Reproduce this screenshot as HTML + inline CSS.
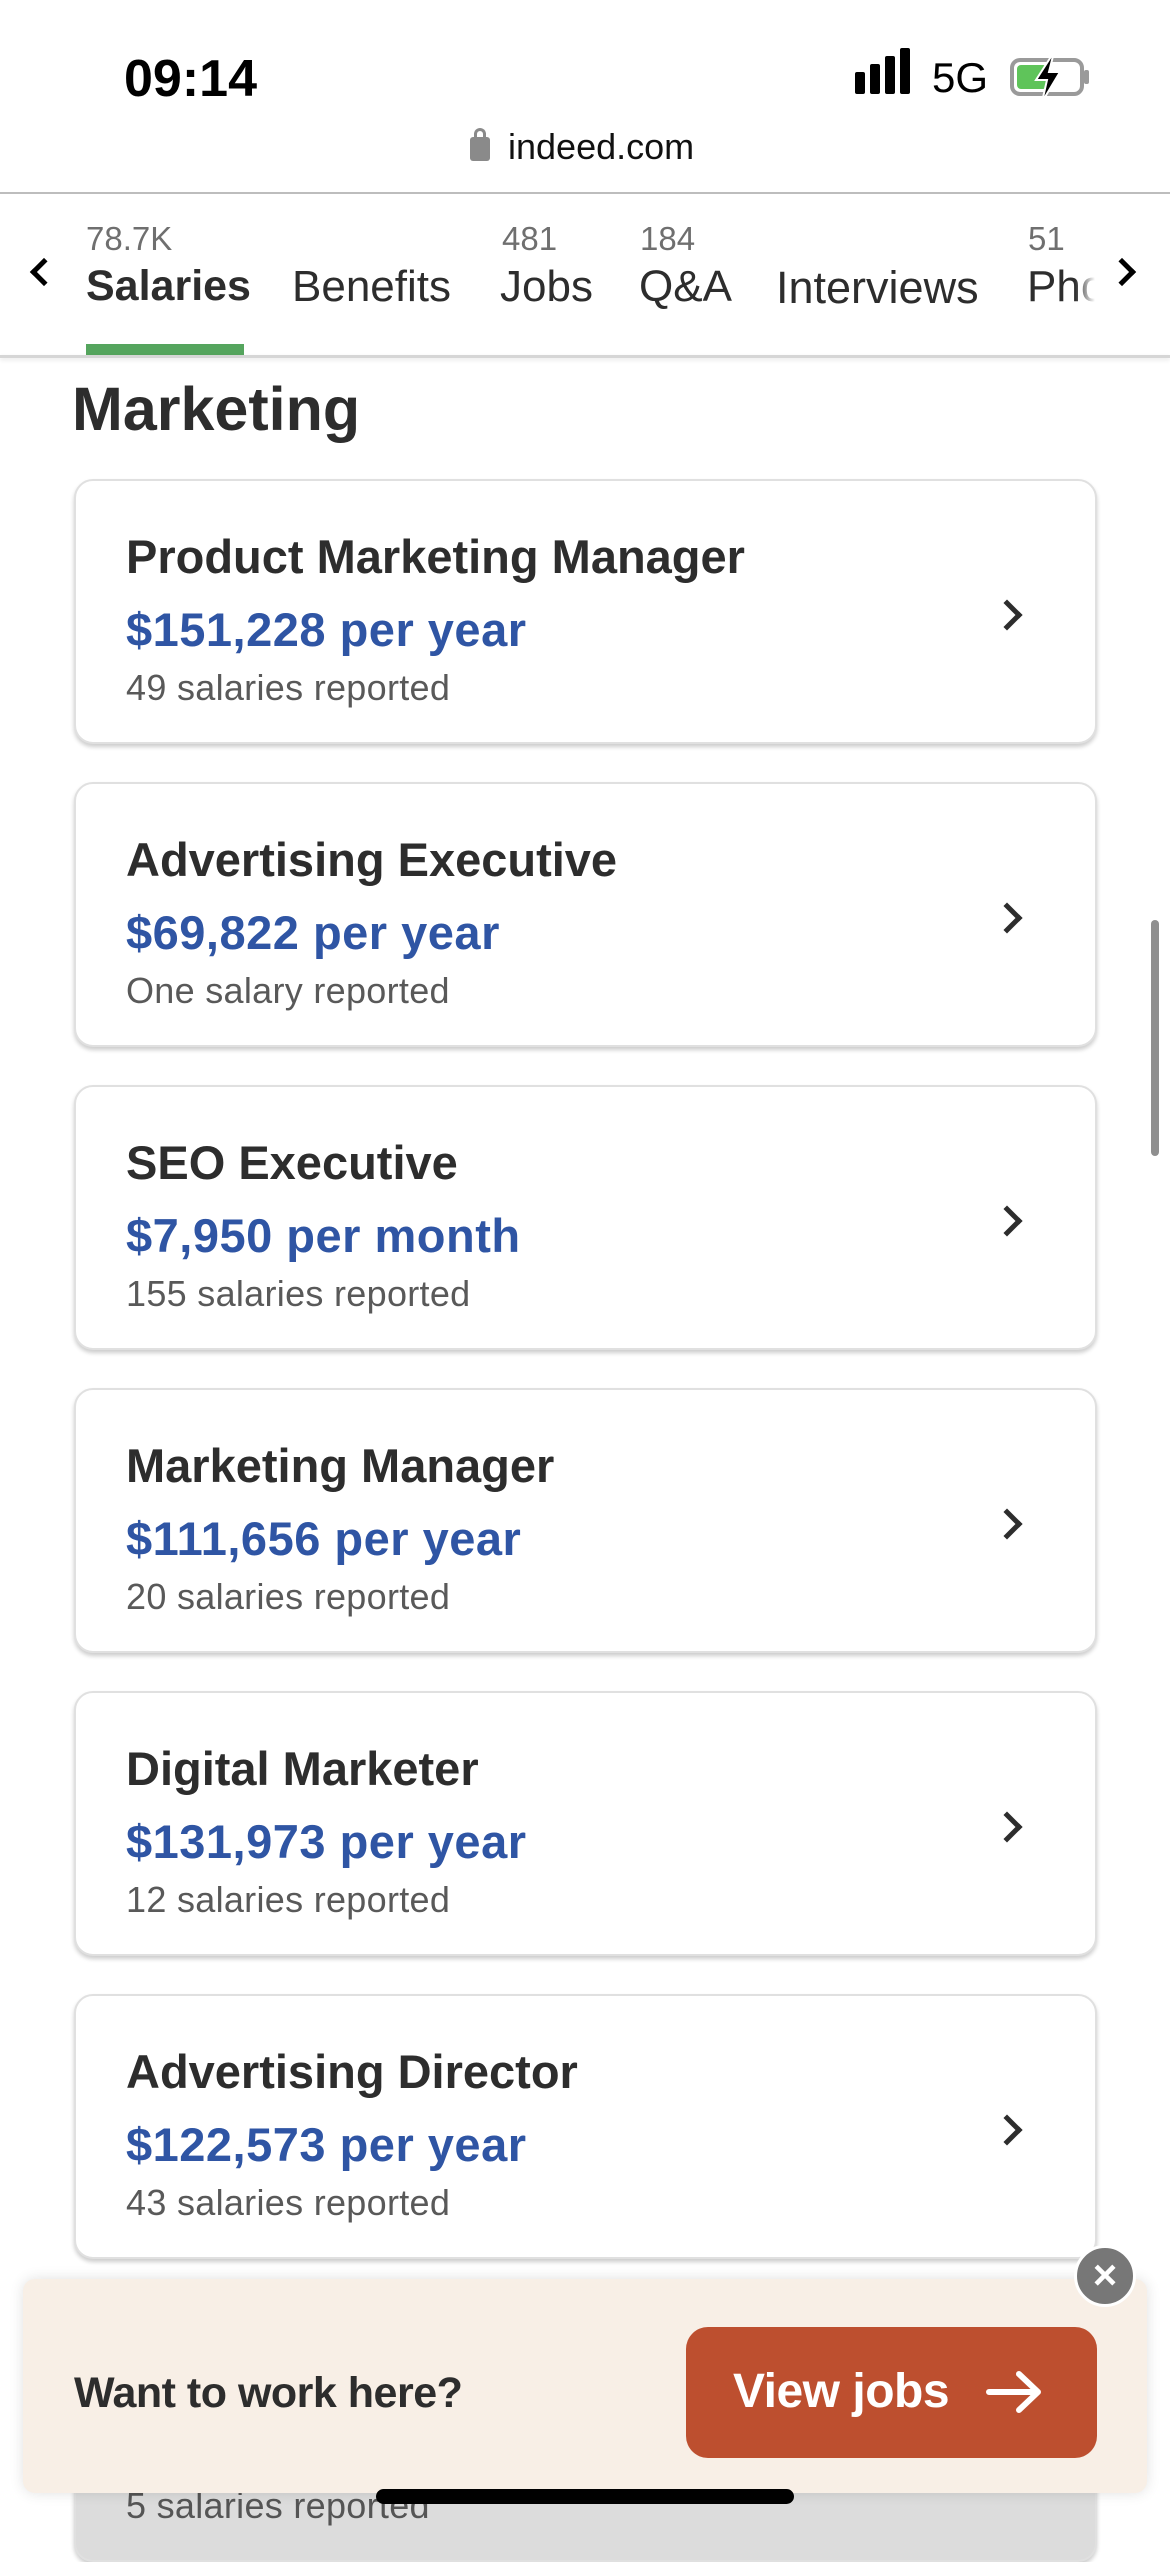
<!DOCTYPE html>
<html><head><meta charset="utf-8"><style>
*{margin:0;padding:0;box-sizing:border-box}
body{width:1170px;height:2532px;background:#fff;font-family:"Liberation Sans",sans-serif;position:relative;overflow:hidden;color:#2d2d2d}
.a{position:absolute;white-space:nowrap}
.card{position:absolute;left:74px;width:1023px;height:265px;border-radius:19px;background:#fff;border:2px solid #e0e0e0;box-shadow:0 3px 4px rgba(0,0,0,.2)}
.t{position:absolute;left:50px;top:48px;font-size:47px;font-weight:bold;color:#2d2d2d}
.s{position:absolute;left:50px;top:121px;font-size:47px;font-weight:bold;color:#2f55a4;letter-spacing:0.5px}
.r{position:absolute;left:50px;top:186px;font-size:36px;color:#595959;letter-spacing:0.3px}
.chev{position:absolute;left:920px;top:123px;width:22px;height:22px;border-right:5px solid #2d2d2d;border-top:5px solid #2d2d2d;transform:rotate(45deg)}
</style></head><body>
<div class="a" style="left:124px;top:49px;font-size:52px;font-weight:bold;color:#000">09:14</div>
<div class="a" style="left:855px;top:72px;width:10px;height:22px;background:#000;border-radius:2px"></div>
<div class="a" style="left:870px;top:64px;width:10px;height:30px;background:#000;border-radius:2px"></div>
<div class="a" style="left:885px;top:56px;width:10px;height:38px;background:#000;border-radius:2px"></div>
<div class="a" style="left:900px;top:48px;width:10px;height:46px;background:#000;border-radius:2px"></div>
<div class="a" style="left:932px;top:54px;font-size:42px;color:#000">5G</div>
<div class="a" style="left:1010px;top:58px;width:74px;height:38px;border:4px solid #9a9a9a;border-radius:10px;padding:3px"><div style="width:30px;height:24px;background:#5fc45a;border-radius:4px"></div></div>
<div class="a" style="left:1084px;top:70px;width:5px;height:14px;background:#9a9a9a;border-radius:2px"></div>
<svg class="a" style="left:1030px;top:50px" width="36" height="54" viewBox="0 0 36 54"><path d="M24 2 L6 30 L17 30 L12 52 L30 22 L19 22 Z" fill="#000" stroke="#fff" stroke-width="2"/></svg>
<div class="a" style="left:470px;top:137px;width:20px;height:24px;background:#8a8a8a;border-radius:3px"></div>
<div class="a" style="left:474px;top:128px;width:12px;height:14px;border:3px solid #8a8a8a;border-bottom:none;border-radius:6px 6px 0 0"></div>
<div class="a" style="left:508px;top:126px;font-size:36px;color:#111">indeed.com</div>
<div class="a" style="left:0;top:192px;width:1170px;height:2px;background:#bdbdbd"></div>
<div class="a" style="left:86px;top:220px;font-size:33px;color:#6f6f6f">78.7K</div>
<div class="a" style="left:502px;top:220px;font-size:33px;color:#6f6f6f">481</div>
<div class="a" style="left:640px;top:220px;font-size:33px;color:#6f6f6f">184</div>
<div class="a" style="left:1028px;top:220px;font-size:33px;color:#6f6f6f">51</div>
<div class="a" style="left:86px;top:262px;font-size:43px;font-weight:bold;color:#2d2d2d">Salaries</div>
<div class="a" style="left:292px;top:262px;font-size:44px;color:#2d2d2d">Benefits</div>
<div class="a" style="left:500px;top:262px;font-size:44px;color:#2d2d2d">Jobs</div>
<div class="a" style="left:639px;top:262px;font-size:44px;color:#2d2d2d">Q&amp;A</div>
<div class="a" style="left:776px;top:262px;font-size:45px;color:#2d2d2d">Interviews</div>
<div class="a" style="left:1027px;top:262px;font-size:44px;color:#2d2d2d">Pho</div>
<div class="a" style="left:1075px;top:250px;width:50px;height:70px;background:linear-gradient(90deg,rgba(255,255,255,0),#fff 40%)"></div>
<div class="a" style="left:34px;top:262px;width:20px;height:20px;border-left:5px solid #000;border-bottom:5px solid #000;transform:rotate(45deg)"></div>
<div class="a" style="left:1112px;top:262px;width:20px;height:20px;border-right:5px solid #000;border-top:5px solid #000;transform:rotate(45deg)"></div>
<div class="a" style="left:86px;top:344px;width:158px;height:11px;background:#55a55e"></div>
<div class="a" style="left:0;top:355px;width:1170px;height:3px;background:#d6d6d6;box-shadow:0 2px 4px rgba(0,0,0,.1)"></div>
<div class="a" style="left:72px;top:374px;font-size:61px;font-weight:bold;color:#2d2d2d">Marketing</div>

<div class="card" style="top:479px"><div class="t">Product Marketing Manager</div><div class="s">$151,228 per year</div><div class="r">49 salaries reported</div><div class="chev"></div></div>
<div class="card" style="top:782px"><div class="t">Advertising Executive</div><div class="s">$69,822 per year</div><div class="r">One salary reported</div><div class="chev"></div></div>
<div class="card" style="top:1085px"><div class="t">SEO Executive</div><div class="s">$7,950 per month</div><div class="r">155 salaries reported</div><div class="chev"></div></div>
<div class="card" style="top:1388px"><div class="t">Marketing Manager</div><div class="s">$111,656 per year</div><div class="r">20 salaries reported</div><div class="chev"></div></div>
<div class="card" style="top:1691px"><div class="t">Digital Marketer</div><div class="s">$131,973 per year</div><div class="r">12 salaries reported</div><div class="chev"></div></div>
<div class="card" style="top:1994px"><div class="t">Advertising Director</div><div class="s">$122,573 per year</div><div class="r">43 salaries reported</div><div class="chev"></div></div>
<div class="card" style="top:2297px;background:#dcdcdc"><div class="r" style="top:186px;color:#555">5 salaries reported</div></div>

<div class="a" style="left:1151px;top:920px;width:8px;height:236px;background:#8f8f8f;border-radius:4px"></div>

<div class="a" style="left:23px;top:2279px;width:1124px;height:214px;background:#f8efe6;border-radius:12px;box-shadow:0 0 14px rgba(0,0,0,.12)"></div>
<div class="a" style="left:74px;top:2369px;font-size:43px;font-weight:bold;color:#2d2d2d;letter-spacing:-0.5px">Want to work here?</div>
<div class="a" style="left:686px;top:2327px;width:411px;height:131px;background:#bd4f2f;border-radius:22px"></div>
<div class="a" style="left:733px;top:2364px;font-size:48px;font-weight:bold;color:#fff;letter-spacing:-0.5px">View jobs</div>
<svg class="a" style="left:986px;top:2370px" width="58" height="44" viewBox="0 0 58 44"><path d="M3 22 H52 M33 4 L52 22 L33 40" fill="none" stroke="#fff" stroke-width="6" stroke-linecap="round" stroke-linejoin="round"/></svg>
<div class="a" style="left:1074px;top:2245px;width:62px;height:62px;border-radius:50%;background:#777;border:3px solid #fff;color:#fff;font-size:42px;font-weight:bold;text-align:center;line-height:54px">×</div>
<div class="a" style="left:376px;top:2489px;width:418px;height:15px;background:#000;border-radius:8px"></div>
</body></html>
